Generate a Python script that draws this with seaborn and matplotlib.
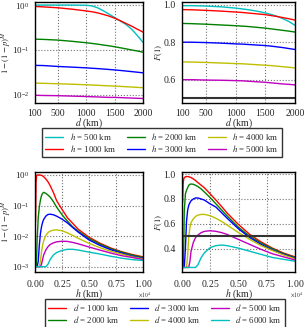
import numpy as np
import pandas as pd
import matplotlib
matplotlib.use("Agg")
import matplotlib.pyplot as plt
import seaborn as sns

sns.set_style("whitegrid", {"grid.linestyle": ":", "grid.color": "0.45", "axes.edgecolor": "k"})
plt.rcParams["font.family"] = ["Liberation Serif", "DejaVu Serif"]
plt.rcParams["mathtext.fontset"] = "stix"
plt.rcParams["font.size"] = 7

# top row: curves vs distance d for several altitudes h
d_km = [100, 250, 500, 750, 1000, 1100, 1200, 1300, 1400, 1500, 1600, 1700, 1800, 1900, 2000]
h_labels = ["500", "1000", "2000", "3000", "4000", "5000"]
h_colors = ["c", "r", "g", "b", "y", "m"]

p_vs_d = {
    "500": [1.0, 1.0, 1.0, 1.0, 0.99, 0.96, 0.87, 0.75, 0.63, 0.53, 0.44, 0.37, 0.29, 0.21, 0.148],
    "1000": [0.93, 0.91, 0.87, 0.81, 0.74, 0.71, 0.67, 0.62, 0.57, 0.51, 0.45, 0.39, 0.34, 0.29, 0.25],
    "2000": [0.174, 0.172, 0.166, 0.156, 0.145, 0.14, 0.135, 0.129, 0.124, 0.118, 0.112, 0.106, 0.1, 0.095, 0.089],
    "3000": [0.0454, 0.045, 0.043, 0.0415, 0.040, 0.0392, 0.0385, 0.0377, 0.0368, 0.036, 0.035, 0.034, 0.033, 0.032, 0.031],
    "4000": [0.0183, 0.0181, 0.0177, 0.0173, 0.0168, 0.0166, 0.0164, 0.0161, 0.0159, 0.0157, 0.0155, 0.0152, 0.015, 0.0147, 0.0145],
    "5000": [0.0098, 0.0097, 0.0096, 0.0094, 0.0092, 0.0091, 0.009, 0.0089, 0.0088, 0.0088, 0.0087, 0.0086, 0.0085, 0.0084, 0.0083],
}
f_vs_d = {
    "500": [0.995, 0.995, 0.993, 0.989, 0.982, 0.978, 0.974, 0.969, 0.963, 0.956, 0.948, 0.938, 0.925, 0.91, 0.89],
    "1000": [0.974, 0.973, 0.97, 0.966, 0.961, 0.959, 0.956, 0.953, 0.95, 0.947, 0.942, 0.937, 0.931, 0.925, 0.918],
    "2000": [0.9, 0.899, 0.896, 0.892, 0.888, 0.886, 0.884, 0.881, 0.878, 0.875, 0.871, 0.867, 0.863, 0.859, 0.854],
    "3000": [0.8, 0.8, 0.798, 0.795, 0.791, 0.79, 0.788, 0.786, 0.784, 0.782, 0.779, 0.775, 0.771, 0.766, 0.761],
    "4000": [0.695, 0.694, 0.692, 0.689, 0.686, 0.685, 0.683, 0.681, 0.679, 0.677, 0.675, 0.672, 0.669, 0.666, 0.663],
    "5000": [0.6, 0.6, 0.598, 0.597, 0.595, 0.594, 0.592, 0.59, 0.588, 0.586, 0.583, 0.58, 0.577, 0.575, 0.572],
}

# bottom row: curves vs altitude h for several distances d
h_km = [50, 100, 150, 200, 300, 400, 500, 600, 700, 800, 1000, 1200, 1400, 1700,
        2000, 2500, 3000, 3500, 4000, 5000, 6000, 7000, 8000, 9000, 10000]
d_labels = ["1000", "2000", "3000", "4000", "5000", "6000"]
d_colors = ["r", "g", "b", "y", "m", "c"]

p_vs_h = {
    "1000": [0.03, 0.6, 0.97, 1.0, 1.0, 1.0, 0.99, 0.97, 0.93, 0.88, 0.74, 0.6, 0.45, 0.27,
             0.145, 0.075, 0.04, 0.026, 0.0168, 0.0092, 0.0059, 0.0041, 0.0031, 0.0025, 0.0021],
    "2000": [0.001, 0.001, 0.002, 0.008, 0.04, 0.09, 0.15, 0.21, 0.25, 0.27, 0.25, 0.22, 0.19, 0.135,
             0.089, 0.05, 0.031, 0.02, 0.0145, 0.0083, 0.0055, 0.0039, 0.003, 0.0024, 0.002],
    "3000": [0.001, 0.001, 0.001, 0.001, 0.0015, 0.005, 0.012, 0.02, 0.028, 0.035, 0.045, 0.051, 0.052, 0.05,
             0.045, 0.036, 0.027, 0.019, 0.0135, 0.0075, 0.005, 0.0036, 0.0028, 0.0022, 0.0019],
    "4000": [0.001, 0.001, 0.001, 0.001, 0.001, 0.001, 0.0015, 0.003, 0.005, 0.007, 0.0105, 0.013, 0.0145, 0.0157,
             0.016, 0.015, 0.0128, 0.0105, 0.0085, 0.0058, 0.0042, 0.0032, 0.0026, 0.0021, 0.0018],
    "5000": [0.001, 0.001, 0.001, 0.001, 0.001, 0.001, 0.001, 0.0012, 0.0017, 0.0024, 0.0035, 0.0045, 0.0053, 0.006,
             0.0065, 0.0068, 0.0067, 0.0062, 0.0056, 0.0044, 0.0035, 0.0028, 0.0023, 0.002, 0.0017],
    "6000": [0.001, 0.001, 0.001, 0.001, 0.001, 0.001, 0.001, 0.001, 0.001, 0.001, 0.001, 0.0012, 0.0017, 0.0024,
             0.0029, 0.0034, 0.0037, 0.0037, 0.0035, 0.003, 0.0026, 0.0022, 0.0019, 0.0017, 0.0016],
}
f_vs_h = {
    "1000": [0.77, 0.92, 0.96, 0.97, 0.978, 0.98, 0.98, 0.978, 0.975, 0.972, 0.961, 0.948, 0.932, 0.91,
             0.888, 0.84, 0.791, 0.74, 0.686, 0.595, 0.515, 0.455, 0.405, 0.365, 0.335],
    "2000": [0.25, 0.25, 0.4, 0.7, 0.84, 0.87, 0.89, 0.91, 0.918, 0.92, 0.918, 0.91, 0.9, 0.88,
             0.854, 0.81, 0.761, 0.712, 0.663, 0.572, 0.5, 0.445, 0.4, 0.36, 0.33],
    "3000": [0.25, 0.25, 0.25, 0.25, 0.4, 0.62, 0.71, 0.75, 0.77, 0.785, 0.8, 0.808, 0.808, 0.8,
             0.79, 0.76, 0.735, 0.69, 0.645, 0.56, 0.49, 0.435, 0.39, 0.355, 0.325],
    "4000": [0.25, 0.25, 0.25, 0.25, 0.25, 0.25, 0.35, 0.5, 0.57, 0.61, 0.64, 0.66, 0.67, 0.676,
             0.676, 0.665, 0.645, 0.62, 0.59, 0.53, 0.475, 0.425, 0.385, 0.35, 0.32],
    "5000": [0.25, 0.25, 0.25, 0.25, 0.25, 0.25, 0.25, 0.25, 0.3, 0.38, 0.45, 0.49, 0.51, 0.53,
             0.54, 0.545, 0.54, 0.53, 0.515, 0.475, 0.435, 0.395, 0.36, 0.335, 0.31],
    "6000": [0.25, 0.25, 0.25, 0.25, 0.25, 0.25, 0.25, 0.25, 0.25, 0.25, 0.25, 0.25, 0.27, 0.33,
             0.37, 0.41, 0.425, 0.43, 0.425, 0.405, 0.38, 0.355, 0.33, 0.315, 0.3],
}

top = pd.concat([
    pd.DataFrame({"d": d_km, "P": p_vs_d[h], "F": f_vs_d[h], "h": h}) for h in h_labels
])
bottom = pd.concat([
    pd.DataFrame({"h": h_km, "P": p_vs_h[d], "F": f_vs_h[d], "d": d}) for d in d_labels
])

fig = plt.figure(figsize=(3.05, 3.27), dpi=100)
W, H = 305.0, 327.0
def place(x0, x1, y0, y1):
    return fig.add_axes([x0 / W, 1 - y1 / H, (x1 - x0) / W, (y1 - y0) / H])

ax1 = place(35, 143, 2, 103)
ax2 = place(182, 295, 2, 103)
ax3 = place(35, 143, 172, 272)
ax4 = place(182, 295, 172, 272)

top_pal = dict(zip(h_labels, h_colors))
bot_pal = dict(zip(d_labels, d_colors))

sns.lineplot(data=top, x="d", y="P", hue="h", hue_order=h_labels, palette=top_pal,
             legend=False, ax=ax1, lw=1)
sns.lineplot(data=top, x="d", y="F", hue="h", hue_order=h_labels, palette=top_pal,
             legend=False, ax=ax2, lw=1)
sns.lineplot(data=bottom, x="h", y="P", hue="d", hue_order=d_labels, palette=bot_pal,
             legend=False, ax=ax3, lw=1)
sns.lineplot(data=bottom, x="h", y="F", hue="d", hue_order=d_labels, palette=bot_pal,
             legend=False, ax=ax4, lw=1)

for ax in (ax2, ax4):
    ax.axhline(0.5, color="0.2", lw=1.5)

ax1.set_yscale("log")
ax3.set_yscale("log")
ax1.set_ylim(6.6e-3, 1.17)
ax2.set_ylim(0.4755, 1.0145)
ax3.set_ylim(6.7e-4, 1.25)
ax4.set_ylim(0.2135, 1.0165)

for ax in (ax1, ax2):
    ax.set_xlim(100, 2000)
    ax.set_xticks([100, 500, 1000, 1500, 2000])
    ax.set_xlabel("$d$ (km)", labelpad=-1)
for ax in (ax3, ax4):
    ax.set_xlim(0, 10000)
    ax.set_xticks([0, 2500, 5000, 7500, 10000])
    ax.ticklabel_format(style="sci", scilimits=(0, 0), axis="x", useMathText=True)
    ax.xaxis.get_offset_text().set_visible(False)
    ax.set_xlabel("$h$ (km)", labelpad=-1)
    ax.text(1.01, -0.225, r"$\times10^{4}$", transform=ax.transAxes,
            ha="center", va="center", fontsize=4)
ax2.set_yticks([0.6, 0.8, 1.0])
ax4.set_yticks([0.4, 0.6, 0.8, 1.0])

for ax in (ax1, ax2, ax3, ax4):
    ax.tick_params(labelsize=7, pad=1)
    for s in ax.spines.values():
        s.set_color("k")
        s.set_linewidth(1)

for ax in (ax1, ax3):
    ax.tick_params(axis="y", labelsize=6.5, pad=0.5)
    ax.set_ylabel("$1-(1-p)^M$", fontsize=6.2)
    ax.yaxis.set_label_coords(-0.2, 0.5)
for ax in (ax2, ax4):
    ax.set_ylabel("$F(1)$", fontsize=6.5)
    ax.yaxis.set_label_coords(-0.15, 0.5)

leg_kw = dict(ncol=3, loc="center", frameon=True, fancybox=False, edgecolor="k",
              fontsize=6.3, borderpad=0.3, labelspacing=0.2, columnspacing=1.2,
              handlelength=2.1, handletextpad=0.7)
fig.legend(ax1.get_lines()[:6], ["$h$ = %s km" % h for h in h_labels],
           bbox_to_anchor=(162 / W, 1 - 142.5 / H), **leg_kw)
fig.legend(ax3.get_lines()[:6], ["$d$ = %s km" % d for d in d_labels],
           bbox_to_anchor=(165 / W, 1 - 313.5 / H), **leg_kw)

fig.savefig("out.png", dpi=100)
